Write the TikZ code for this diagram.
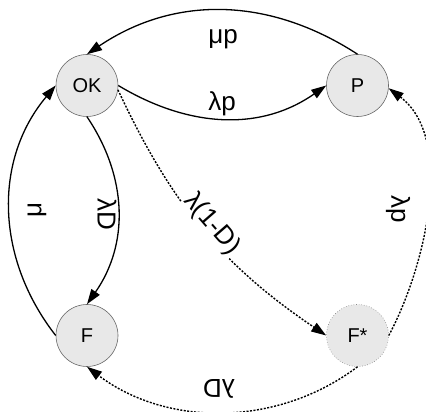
\documentclass[tikz,border=0pt]{standalone}
\usepackage{fontspec}
\setmainfont{Liberation Sans}
\usetikzlibrary{arrows.meta}
\begin{document}
\begin{tikzpicture}[x=1pt,y=1pt,
  state/.style={circle, draw=black!60, fill=black!9, line width=0.6pt, minimum size=62pt, inner sep=0pt, font=\fontsize{20}{24}\selectfont},
  tipped/.style={-{Triangle[length=15pt,width=10pt]}},
  edge/.style={tipped, line width=1.3pt},
  dedge/.style={tipped, line width=1.4pt, dash pattern=on 2pt off 1.5pt},
  lbl/.style={font=\fontsize{26}{30}\selectfont, inner sep=1pt}]
\useasboundingbox (0,0) rectangle (426,412);
\node[state] (OK) at (87,326.5) {OK};
\node[state] (P) at (357.5,326.5) {P};
\node[state] (F) at (87,76.5) {F};
\node[state, draw=black!50, dotted] (Fs) at (357.5,76.5) {F*};
\draw[edge] (P.north) to[out=147,in=34] (OK.north);
\draw[edge] (OK.east) to[out=-31,in=-145] (P.west);
\draw[edge] (F.west) to[out=128,in=-130] (OK.west);
\draw[edge] (OK.south) to[out=-56,in=55] (F.north);
\draw[dedge] (OK.-8) to[out=-65,in=146] (Fs.west);
\draw[dedge] (Fs.east) to[out=62,in=-37,looseness=0.85] (P.-5);
\draw[dedge] (Fs.south) to[out=-143,in=-37,looseness=0.95] (F.south);
\node[lbl] (Lmup) at (223,373) {μp};
\node[lbl] (Llp) at (222,308) {λp};
\node[lbl, rotate=90] (Lmu) at (37,202) {μ};
\node[lbl, rotate=-90] (LlD) at (107,198) {λD};
\node[lbl, rotate=-49, fill=white] (Ll1D) at (212,188) {λ(1-D)};
\node[lbl, rotate=-90] (Llp2) at (398,203) {λp};
\node[lbl, rotate=180] (LlD2) at (219,23) {λD};
\end{tikzpicture}
\end{document}
